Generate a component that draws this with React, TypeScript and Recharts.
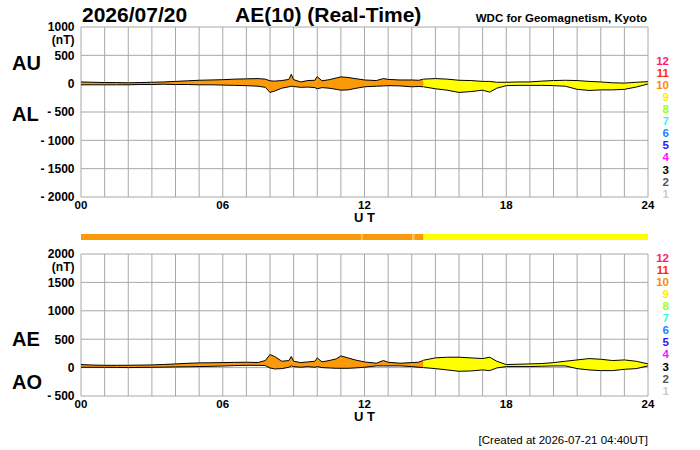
import React from 'react';
import { ComposedChart, Area, XAxis, YAxis, CartesianGrid, BarChart, Bar } from 'recharts';

// ---- data ----
const HOURS = [
  0, 0.5, 1, 1.5, 2, 2.5, 3, 3.5, 4, 4.5, 5, 5.5, 6, 6.5, 7, 7.5,
  7.8, 8, 8.2, 8.5, 8.8, 8.9, 9, 9.3, 9.6, 9.9,
  10, 10.2, 10.5, 10.8, 11, 11.3, 11.6, 12,
  12.5, 12.8, 13, 13.5, 14, 14.3, 14.5,
  15, 15.5, 16, 16.5, 17, 17.3, 17.6, 18,
  18.5, 19, 19.5, 20, 20.5, 21, 21.5, 22, 22.5, 23, 23.5, 24,
];
const AU = [
  30, 25, 20, 20, 15, 20, 25, 30, 40, 50, 60, 65, 70, 80, 85, 90,
  80, 50, 45, 55, 75, 165, 70, 30, 55, 60,
  125, 50, 70, 100, 120, 110, 90, 65,
  55, 90, 75, 65, 65, 60, 80,
  90, 80, 60, 55, 40, 40, 25, 25,
  30, 30, 45, 55, 60, 55, 40, 30, 15, 10, 25, 35,
];
const AL = [
  -20, -20, -20, -20, -20, -15, -15, -10, -15, -15, -20, -20, -25, -30, -35, -45,
  -65, -155, -130, -80, -55, -45, -50, -65, -60, -70,
  -90, -70, -80, -100, -115, -110, -85, -55,
  -45, -40, -35, -40, -55, -50, -55,
  -90, -115, -155, -140, -115, -150, -80, -35,
  -30, -30, -30, -35, -45, -100, -120, -110, -110, -100, -60, -5,
];
const AE = [
  53, 45, 41, 40, 41, 44, 47, 55, 65, 75, 83, 85, 88, 92, 94, 90,
  124, 230, 195, 112, 124, 195, 112, 88, 100, 112,
  171, 100, 124, 153, 206, 171, 135, 100,
  77, 124, 94, 77, 88, 95, 130,
  171, 183, 183, 171, 159, 183, 112, 53,
  59, 65, 71, 88, 112, 135, 159, 147, 124, 135, 112, 65,
];
const AO = [
  6, 5, 5, 3, 0, 3, 5, 8, 12, 15, 18, 22, 28, 35, 40, 40,
  35, -6, -24, -18, 6, 30, 18, 6, 18, 6,
  18, 0, -6, -12, -12, -12, -6, 6,
  30, 30, 30, 30, 18, 6, 0,
  -18, -41, -65, -59, -41, -53, -6, 18,
  18, 18, 24, 30, 30, -18, -41, -53, -53, -30, -18, 30,
];

const SPLIT_HOUR = 14.5; // station count changes from 10 to 9 here
const X_TICKS = [0, 1, 2, 3, 4, 5, 6, 7, 8, 9, 10, 11, 12, 13, 14, 15, 16, 17, 18, 19, 20, 21, 22, 23, 24];
const X_LABELS: Record<number, string> = { 0: '00', 6: '06', 12: '12', 18: '18', 24: '24' };
const UPPER_TICKS = [-2000, -1500, -1000, -500, 0, 500, 1000];
const LOWER_TICKS = [-500, 0, 500, 1000, 1500, 2000];

const ORANGE = '#FA9A0A';
const YELLOW = '#FFFF00';
const GOLD = '#FFC81E';

const BAR_SEGMENTS = [
  { from: 0, to: 11.85, color: ORANGE },
  { from: 11.85, to: 11.93, color: GOLD },
  { from: 11.93, to: 14.03, color: ORANGE },
  { from: 14.03, to: 14.11, color: GOLD },
  { from: 14.11, to: 14.5, color: ORANGE },
  { from: 14.5, to: 24, color: YELLOW },
];

const LEVELS = ['12', '11', '10', '9', '8', '7', '6', '5', '4', '3', '2', '1'];
const LEVEL_COLORS = [
  '#FF1A75', '#FF2A00', '#FF8C00', '#FFEE00', '#99FF22', '#22FFDD',
  '#1188FF', '#3311FF', '#FF11FF', '#000000', '#555555', '#CCCCCC',
];

const FONT = '"Liberation Sans", Arial, Helvetica, sans-serif';
const GRID = '#A8A8A8';

// ---- tables built from arrays ----
const upperRows = HOURS.map((t, i) => ({
  t,
  orange: t <= SPLIT_HOUR ? [AL[i], AU[i]] : null,
  yellow: t >= SPLIT_HOUR ? [AL[i], AU[i]] : null,
}));
const lowerRows = HOURS.map((t, i) => ({
  t,
  orange: t <= SPLIT_HOUR ? [AO[i], AE[i]] : null,
  yellow: t >= SPLIT_HOUR ? [AO[i], AE[i]] : null,
}));
const barRow: Record<string, any> = { row: 'n' };
BAR_SEGMENTS.forEach((s, i) => {
  barRow['s' + i] = s.to - s.from;
});
const barRows = [barRow];

const YTick = (props: any) => {
  const { x, y, payload, top } = props;
  const v = payload.value as number;
  const label = v < 0 ? `- ${-v}` : `${v}`;
  return (
    <g>
      <text x={x + 1.5} y={y + 4.3} textAnchor="end" fontFamily={FONT} fontWeight="bold" fontSize={12} fill="#000">
        {label}
      </text>
      {v === top && (
        <text x={x + 1.5} y={y + 17.3} textAnchor="end" fontFamily={FONT} fontWeight="bold" fontSize={12} fill="#000">
          (nT)
        </text>
      )}
    </g>
  );
};

const XTick = (props: any) => {
  const { x, y, payload } = props;
  const label = X_LABELS[payload.value as number];
  if (!label) return <g />;
  return (
    <text x={x} y={y + 3.5} textAnchor="middle" fontFamily={FONT} fontWeight="bold" fontSize={11.5} fill="#000">
      {label}
    </text>
  );
};

const abs = (extra: React.CSSProperties = {}): React.CSSProperties => ({ position: 'absolute', left: 0, top: 0, ...extra });

export default function App() {
  return (
    <div style={{ position: 'fixed', left: 0, top: 0, width: 700, height: 450, background: '#fff', overflow: 'hidden' }}>
      {/* upper panel: AU / AL */}
      <div style={abs()}>
        <ComposedChart width={700} height={230} data={upperRows} margin={{ top: 27, right: 52, left: 0, bottom: 0 }}>
          <CartesianGrid stroke={GRID} strokeWidth={1} />
          <XAxis
            type="number"
            dataKey="t"
            domain={[0, 24]}
            ticks={X_TICKS}
            interval={0}
            tickLine={false}
            axisLine={false}
            height={33}
            tick={(p: any) => <XTick {...p} />}
          />
          <YAxis
            type="number"
            domain={[-2000, 1000]}
            ticks={UPPER_TICKS}
            interval={0}
            width={81}
            tickLine={false}
            axisLine={false}
            allowDataOverflow
            tick={(p: any) => <YTick {...p} top={1000} />}
          />
          <Area type="linear" dataKey="orange" stroke="#000" strokeWidth={1} fill={ORANGE} fillOpacity={1} isAnimationActive={false} dot={false} activeDot={false} />
          <Area type="linear" dataKey="yellow" stroke="#000" strokeWidth={1} fill={YELLOW} fillOpacity={1} isAnimationActive={false} dot={false} activeDot={false} />
        </ComposedChart>
      </div>

      {/* lower panel: AE / AO */}
      <div style={abs()}>
        <ComposedChart width={700} height={450} data={lowerRows} margin={{ top: 254, right: 52, left: 0, bottom: 0 }}>
          <CartesianGrid stroke={GRID} strokeWidth={1} />
          <XAxis
            type="number"
            dataKey="t"
            domain={[0, 24]}
            ticks={X_TICKS}
            interval={0}
            tickLine={false}
            axisLine={false}
            height={54}
            tick={(p: any) => <XTick {...p} />}
          />
          <YAxis
            type="number"
            domain={[-500, 2000]}
            ticks={LOWER_TICKS}
            interval={0}
            width={81}
            tickLine={false}
            axisLine={false}
            allowDataOverflow
            tick={(p: any) => <YTick {...p} top={2000} />}
          />
          <Area type="linear" dataKey="orange" stroke="#000" strokeWidth={1} fill={ORANGE} fillOpacity={1} isAnimationActive={false} dot={false} activeDot={false} />
          <Area type="linear" dataKey="yellow" stroke="#000" strokeWidth={1} fill={YELLOW} fillOpacity={1} isAnimationActive={false} dot={false} activeDot={false} />
        </ComposedChart>
      </div>

      {/* station-count bar */}
      <div style={abs()}>
        <BarChart
          width={700}
          height={245}
          data={barRows}
          layout="vertical"
          barCategoryGap={0}
          barGap={0}
          margin={{ top: 234, right: 52, left: 81, bottom: 5 }}
        >
          <XAxis type="number" domain={[0, 24]} hide allowDataOverflow />
          <YAxis type="category" dataKey="row" hide />
          {BAR_SEGMENTS.map((s, i) => (
            <Bar key={i} dataKey={'s' + i} stackId="a" fill={s.color} isAnimationActive={false} />
          ))}
        </BarChart>
      </div>

      {/* texts */}
      <svg width={700} height={450} style={abs({ pointerEvents: 'none' })}>
        <g fontFamily={FONT} fontWeight="bold" fill="#000">
          <text x={82} y={22} fontSize={21}>2026/07/20</text>
          <text x={235} y={22} fontSize={21}>AE(10) (Real-Time)</text>
          <text x={647} y={22} fontSize={11.5} textAnchor="end">WDC for Geomagnetism, Kyoto</text>
          <text x={12} y={70} fontSize={20}>AU</text>
          <text x={12} y={121} fontSize={20}>AL</text>
          <text x={12} y={345.5} fontSize={20}>AE</text>
          <text x={12} y={389} fontSize={20}>AO</text>
          <text x={364.5} y={221.5} fontSize={13} textAnchor="middle">U T</text>
          <text x={364.5} y={420.5} fontSize={13} textAnchor="middle">U T</text>
          {LEVELS.map((l, i) => (
            <text key={'u' + l} x={669} y={65 + i * 12.06} fontSize={11.5} textAnchor="end" fill={LEVEL_COLORS[i]}>
              {l}
            </text>
          ))}
          {LEVELS.map((l, i) => (
            <text key={'l' + l} x={669} y={262 + i * 12.06} fontSize={11.5} textAnchor="end" fill={LEVEL_COLORS[i]}>
              {l}
            </text>
          ))}
        </g>
        <text x={648} y={443.5} fontSize={11.5} textAnchor="end" fontFamily={FONT} fill="#000">
          [Created at 2026-07-21 04:40UT]
        </text>
      </svg>
    </div>
  );
}
